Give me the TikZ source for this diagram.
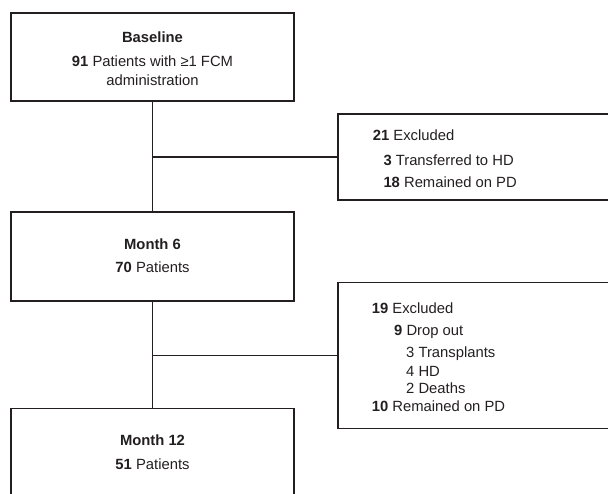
\documentclass[tikz,border=0pt]{standalone}
\usepackage{fontspec}
\setmainfont{Liberation Sans}
\usetikzlibrary{calc, positioning}
\definecolor{ink}{RGB}{35,31,32}
\tikzset{
  stagebox/.style={draw=ink, line width=1.6pt, rectangle, minimum width=283pt, inner sep=0pt},
  sidebox/.style={draw=ink, line width=1.6pt, rectangle, minimum width=312pt, inner sep=0pt},
  txt/.style={text=ink, inner sep=0pt, text height=10.5pt, text depth=0pt, font=\fontsize{14.8}{17}\selectfont},
  link/.style={draw=ink, line width=1.6pt}
}

\begin{document}
\begin{tikzpicture}[x=1pt, y=-1pt]
\clip (0,0) rectangle (608,493);

\node[stagebox, minimum height=88pt] (base) at (152.5, 57) {};
\node[txt] (baseT) at (152.5, 37.3) {\textbf{Baseline}};
\node[txt] (baseN) at (152.5, 61.7) {\textbf{91} Patients with ≥1 FCM};
\node[txt] (baseA) at (152.5, 80) {administration};

\node[stagebox, minimum height=89pt] (m6) at (152.5, 256.2) {};
\node[txt] (m6T) at (152.5, 244) {\textbf{Month 6}};
\node[txt] (m6N) at (152.5, 267.7) {\textbf{70} Patients};

\node[stagebox, minimum height=112pt] (m12) at (152.5, 464.3) {};
\node[txt] (m12T) at (152.5, 440) {\textbf{Month 12}};
\node[txt] (m12N) at (152.5, 464) {\textbf{51} Patients};

\node[sidebox, minimum height=86pt] (ex1) at (494, 157) {};
\node[txt, anchor=west] (ex1a) at (372.7, 135) {\textbf{21} Excluded};
\node[txt, anchor=west] (ex1b) at (383.3, 160) {\textbf{3} Transferred to HD};
\node[txt, anchor=west] (ex1c) at (383.3, 182.3) {\textbf{18} Remained on PD};

\node[sidebox, minimum height=146pt] (ex2) at (494, 355.3) {};
\node[txt, anchor=west] (ex2a) at (371.7, 308.3) {\textbf{19} Excluded};
\node[txt, anchor=west] (ex2b) at (394, 330.7) {\textbf{9} Drop out};
\node[txt, anchor=west] (ex2c) at (406, 352.7) {3 Transplants};
\node[txt, anchor=west] (ex2d) at (406, 371) {4 HD};
\node[txt, anchor=west] (ex2e) at (406, 388.3) {2 Deaths};
\node[txt, anchor=west] (ex2f) at (371.7, 406) {\textbf{10} Remained on PD};

\draw[link] (base.south) -- (m6.north);
\draw[link] (m6.south) -- (m12.north);
\draw[link] (ex1.west) -- (ex1.west -| base.south);
\draw[link] (ex2.west) -- (ex2.west -| m6.south);
\end{tikzpicture}
\end{document}
